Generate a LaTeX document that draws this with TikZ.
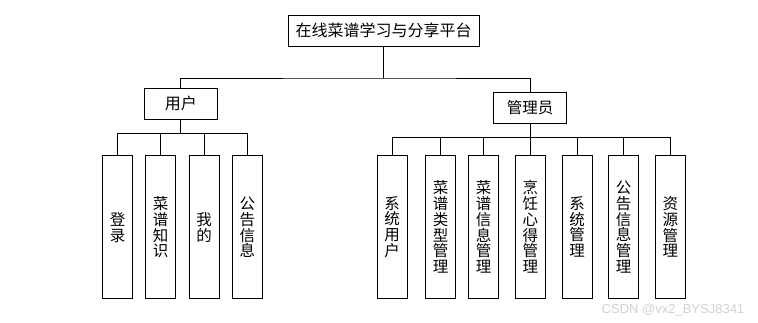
\documentclass[tikz,border=0pt]{standalone}
\usepackage{fontspec}
\newfontfamily\cjk{Noto Sans CJK SC}
\begin{document}
\begin{tikzpicture}[x=1pt,y=-1pt,
  box/.style={draw=black,line width=1pt,fill=white,inner sep=0pt,font=\cjk\fontsize{15.5}{15.8}\selectfont},
  bigbox/.style={box,font=\cjk\fontsize{16}{16}\selectfont},
  vbox/.style={box,minimum width=30pt,minimum height=143pt,align=center},
  conn/.style={draw=black,line width=1pt}]
\useasboundingbox (0,0) rectangle (758,322);
% root
\node[bigbox,minimum width=191pt,minimum height=31pt] (root) at (383.5,30.5) {在线菜谱学习与分享平台};
\node[bigbox,minimum width=73pt,minimum height=31pt] (user) at (180.8,103.5) {用户};
\node[box,minimum width=73pt,minimum height=31pt] (admin) at (530,107.8) {管理员};
% user children
\node[vbox] (u1) at (117.7,227.3) {登\\录};
\node[vbox] (u2) at (160.7,227.3) {菜\\谱\\知\\识};
\node[vbox] (u3) at (204,227.3) {我\\的};
\node[vbox] (u4) at (247.3,227.3) {公\\告\\信\\息};
% admin children
\node[vbox] (a1) at (392,227) {系\\统\\用\\户};
\node[vbox] (a2) at (440.7,227) {菜\\谱\\类\\型\\管\\理};
\node[vbox] (a3) at (483.7,227) {菜\\谱\\信\\息\\管\\理};
\node[vbox] (a4) at (530.3,227) {烹\\饪\\心\\得\\管\\理};
\node[vbox] (a5) at (577,227) {系\\统\\管\\理};
\node[vbox] (a6) at (623.7,227) {公\\告\\信\\息\\管\\理};
\node[vbox] (a7) at (670.3,227) {资\\源\\管\\理};
% connectors
\coordinate (rb) at (383.5,78);
\draw[conn] (root.south) -- (rb);
\draw[conn] (user.north) |- (rb) -| (admin.north);
\coordinate (ub) at (180.8,133.3);
\draw[conn] (user.south) -- (ub);
\foreach \c in {u1,u2,u3,u4} \draw[conn] (\c.north) |- (ub);
\coordinate (ab) at (530,137.7);
\draw[conn] (admin.south) -- (ab);
\foreach \c in {a1,a2,a3,a4,a5,a6,a7} \draw[conn] (\c.north) |- (ab);
% watermark
\node[anchor=base west,text=black!18,font=\fontspec{Liberation Sans}\fontsize{13}{13}\selectfont,inner sep=0pt] (wm) at (601.5,313) {CSDN @vx2\_BYSJ8341};
\end{tikzpicture}
\end{document}
